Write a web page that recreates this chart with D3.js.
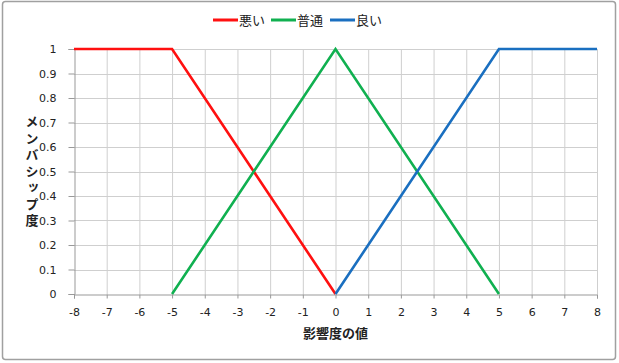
<!DOCTYPE html>
<html>
<head>
<meta charset="utf-8">
<script src="https://cdn.jsdelivr.net/npm/d3@7"></script>
<style>
  body { margin: 0; background: #fff; }
  svg { display: block; font-family: "Noto Sans CJK JP", "DejaVu Sans", sans-serif; }
</style>
</head>
<body>
<div id="chart"></div>
<script>
const xTicks = d3.range(-8, 9, 1);
const yTicks = [0, 0.1, 0.2, 0.3, 0.4, 0.5, 0.6, 0.7, 0.8, 0.9, 1];
const seriesNames = ["悪い", "普通", "良い"];
const seriesColors = ["#ff1010", "#10b050", "#1a6fc0"];
const badX = [-8, -5, 0], badY = [1, 1, 0];
const midX = [-5, 0, 5], midY = [0, 1, 0];
const goodX = [0, 5, 8], goodY = [0, 1, 1];

const W = 619, H = 363;
const m = { left: 74, right: 22, top: 49, bottom: 69 };

const svg = d3.select("#chart").append("svg")
    .attr("width", W)
    .attr("height", H);

// outer frame
svg.append("rect")
    .attr("x", 2.5).attr("y", 1.5)
    .attr("width", W - 6).attr("height", H - 5)
    .attr("rx", 3)
    .attr("fill", "#fff")
    .attr("stroke", "#a0a0a0")
    .attr("stroke-width", 1.5);

const x = d3.scaleLinear().domain([-8, 8]).range([m.left, W - m.right]);
const y = d3.scaleLinear().domain([0, 1]).range([H - m.bottom, m.top]);

// grid
svg.append("g")
    .selectAll("line.v")
    .data(xTicks.slice(1))
  .enter().append("line")
    .attr("x1", d => x(d) + 0.5).attr("x2", d => x(d) + 0.5)
    .attr("y1", y(1)).attr("y2", y(0))
    .attr("stroke", "#cfcfcf");
svg.append("g")
    .selectAll("line.h")
    .data(yTicks.slice(1))
  .enter().append("line")
    .attr("x1", x(-8)).attr("x2", x(8))
    .attr("y1", d => Math.round(y(d)) + 0.5).attr("y2", d => Math.round(y(d)) + 0.5)
    .attr("stroke", "#cfcfcf");

// axes
const xAxis = svg.append("g")
    .attr("transform", "translate(0," + (Math.round(y(0)) + 0.5) + ")")
    .call(d3.axisBottom(x).tickValues(xTicks).tickSize(4).tickPadding(10).tickFormat(d => String(d)));
const yAxis = svg.append("g")
    .attr("transform", "translate(" + (x(-8) + 0.5) + ",0)")
    .call(d3.axisLeft(y).tickValues(yTicks).tickSize(6).tickPadding(12).tickFormat(d => d === 0 || d === 1 ? d : d.toFixed(1)));
[xAxis, yAxis].forEach(a => {
  a.select("path.domain").attr("stroke", "#999");
  a.selectAll("line").attr("stroke", "#999");
  a.selectAll("text").attr("fill", "#222").style("font-size", "11px")
    .style("font-family", "'DejaVu Sans', sans-serif");
});

// series
const series = [
  { name: seriesNames[0], xs: badX, ys: badY, color: seriesColors[0] },
  { name: seriesNames[1], xs: midX, ys: midY, color: seriesColors[1] },
  { name: seriesNames[2], xs: goodX, ys: goodY, color: seriesColors[2] }
];
const line = d3.line().x(d => x(d[0])).y(d => y(d[1]));
svg.append("g")
    .selectAll("path")
    .data(series)
  .enter().append("path")
    .attr("d", s => line(s.xs.map((v, i) => [v, s.ys[i]])))
    .attr("fill", "none")
    .attr("stroke", s => s.color)
    .attr("stroke-width", 2.6);

// axis titles
svg.append("text")
    .attr("x", (x(-8) + x(8)) / 2)
    .attr("y", 338)
    .attr("text-anchor", "middle")
    .style("font-size", "13px")
    .style("font-weight", "bold")
    .attr("fill", "#222")
    .text("影響度の値");

// vertical (tategaki) y title
svg.append("text")
    .attr("x", 32)
    .attr("y", 115)
    .style("writing-mode", "vertical-rl")
    .style("text-orientation", "upright")
    .style("letter-spacing", "3.5px")
    .style("font-size", "13px")
    .style("font-weight", "bold")
    .attr("fill", "#222")
    .text("メンバシップ度");

// legend
const legendX = [213, 271, 330];
const lg = svg.append("g")
    .selectAll("g")
    .data(series)
  .enter().append("g")
    .attr("transform", (d, i) => "translate(" + legendX[i] + ",20)");
lg.append("line")
    .attr("x1", 0).attr("x2", 25)
    .attr("stroke", d => d.color)
    .attr("stroke-width", 3);
lg.append("text")
    .attr("x", 26)
    .attr("y", 4.5)
    .style("font-size", "13px")
    .attr("fill", "#222")
    .text(d => d.name);
</script>
</body>
</html>
